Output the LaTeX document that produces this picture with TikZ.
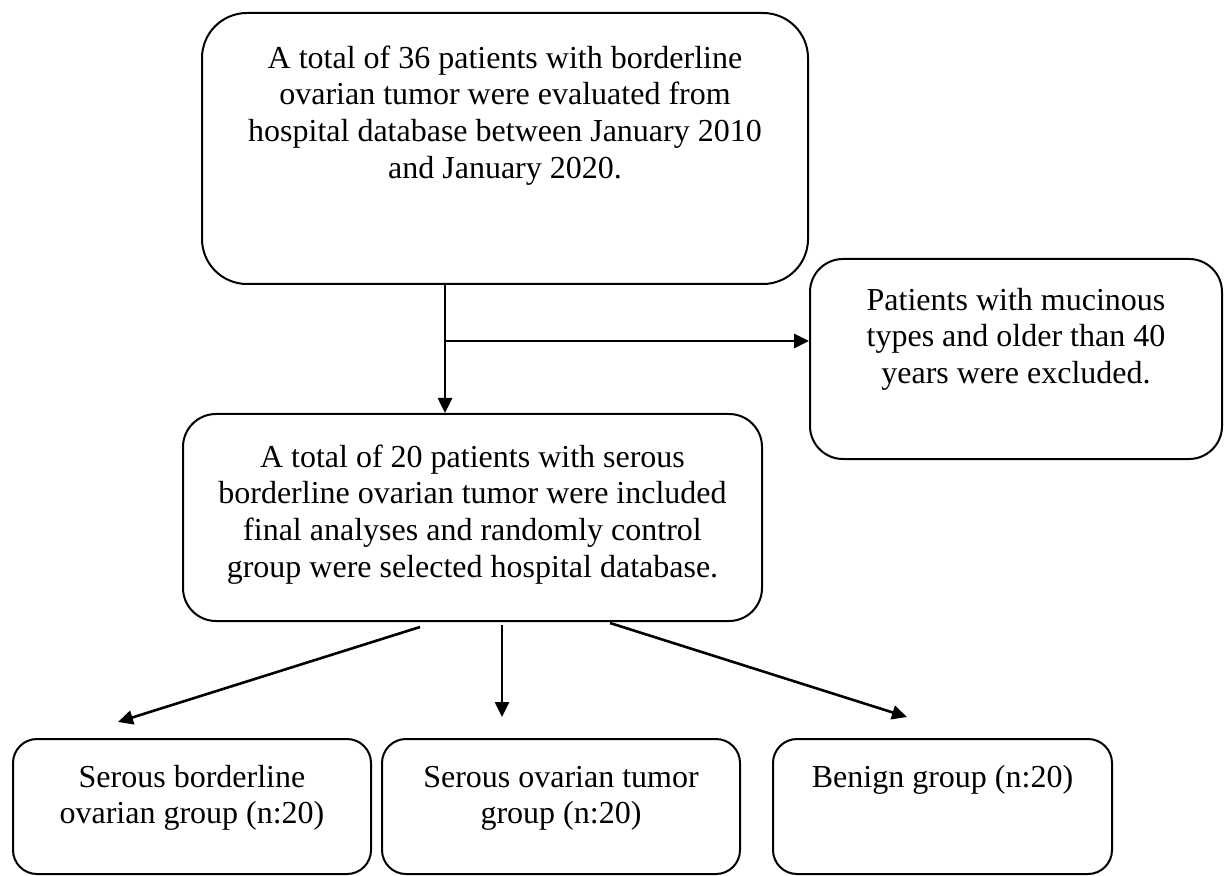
\documentclass[tikz,border=0pt]{standalone}
\usepackage{fontspec}
\setmainfont{Liberation Serif}
\usetikzlibrary{arrows.meta,fit}
\begin{document}
\begin{tikzpicture}[x=0.5pt,y=-0.5pt,
  box/.style={draw=black, line width=1pt, inner sep=0pt},
  txt/.style={anchor=north, inner sep=0pt, align=center, font=\fontsize{16}{18.4}\selectfont},
  arr/.style={line width=1.3pt, -{Triangle[length=7.5pt,width=7pt]}}]
\useasboundingbox (0,0) rectangle (1224,876);

% boxes
\node[box, rounded corners=22.5pt, fit={(202,13) (808,284)}] (b1) {};
\node[box, rounded corners=16.5pt, fit={(810,259) (1222,459)}] (b2) {};
\node[box, rounded corners=16.5pt, fit={(183,414) (762,621)}] (b3) {};
\node[box, rounded corners=12pt, fit={(13,739) (371,874)}] (b4) {};
\node[box, rounded corners=12pt, fit={(382,739) (740,874)}] (b5) {};
\node[box, rounded corners=12pt, fit={(773,739) (1112,874)}] (b6) {};

% texts
\node[txt] (t1) at (505,42) {\strut A total of 36 patients with borderline\\ovarian tumor were evaluated from\\hospital database between January 2010\\and January 2020.};
\node[txt] (t2) at (1016,284) {\strut Patients with mucinous\\types and older than 40\\years were excluded.};
\node[txt] (t3) at (472.5,441) {\strut A total of 20 patients with serous\\borderline ovarian tumor were included\\final analyses and randomly control\\group were selected hospital database.};
\node[txt] (t4) at (192,761) {\strut Serous borderline\\ovarian group (n:20)};
\node[txt] (t5) at (561,761) {\strut Serous ovarian tumor\\group (n:20)};
\node[txt] (t6) at (942.5,761) {\strut Benign group (n:20)};

% connectors
\coordinate (v) at (445,0);
\draw[arr] (b1.south -| v) -- (b3.north -| v);
\coordinate (h) at (445,341);
\draw[arr] (h) -- (h -| b2.west);

\coordinate (s1) at (420,627);
\coordinate (e1) at (118,722);
\coordinate (s2) at (502,625);
\coordinate (e2) at (502,717);
\coordinate (s3) at (610,623);
\coordinate (e3) at (907,717);
\draw[arr] (s1) -- (e1);
\draw[arr] (s2) -- (e2);
\draw[arr] (s3) -- (e3);
\end{tikzpicture}
\end{document}
